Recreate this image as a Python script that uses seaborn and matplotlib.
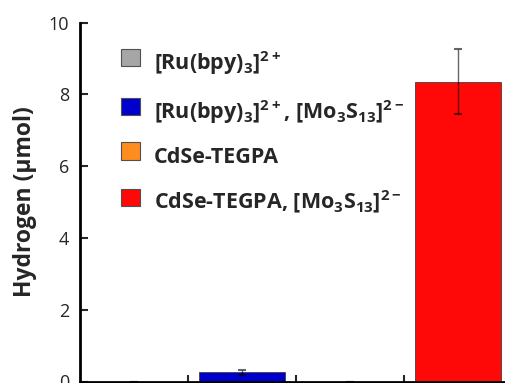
import numpy as np
import pandas as pd
import matplotlib
matplotlib.use("Agg")
import matplotlib.pyplot as plt
import seaborn as sns
from matplotlib.patches import Patch, Rectangle
from matplotlib.legend_handler import HandlerPatch

# -----------------------------
# Data
# -----------------------------
samples = ["Ru", "Ru+Mo3S13", "CdSe", "CdSe+Mo3S13"]
hydrogen = [0.0, 0.26, 0.0, 8.35]
errors = [0.0, 0.07, 0.0, 0.90]
labels = [r"[Ru(bpy)$_3$]$^{2+}$",
          r"[Ru(bpy)$_3$]$^{2+}$, [Mo$_3$S$_{13}$]$^{2-}$",
          "CdSe-TEGPA",
          r"CdSe-TEGPA, [Mo$_3$S$_{13}$]$^{2-}$"]
colors = ["#a6a6a6", "#0000cc", "#ff8c1e", "#ff0808"]

df = pd.DataFrame({"sample": samples, "hydrogen": hydrogen, "err": errors})

# -----------------------------
# Style
# -----------------------------
sns.set_style("ticks")
plt.rcParams["font.family"] = ["Open Sans", "DejaVu Sans"]
plt.rcParams["mathtext.fontset"] = "custom"
plt.rcParams["mathtext.rm"] = "Open Sans:bold"
plt.rcParams["mathtext.bf"] = "Open Sans:bold"
plt.rcParams["mathtext.default"] = "rm"

fig = plt.figure(figsize=(5.05, 3.83), dpi=100)
ax = fig.add_axes([80 / 505, 1.5 / 383, 432 / 505, 359 / 383])

sns.barplot(data=df, x="sample", y="hydrogen", hue="sample",
            palette=colors, saturation=1, width=0.8,
            edgecolor="#404040", linewidth=0.6,
            errorbar=None, legend=False, ax=ax)

ax.errorbar(np.arange(len(samples)), df["hydrogen"], yerr=df["err"],
            fmt="none", ecolor="black", alpha=0.6, elinewidth=1,
            capsize=3, capthick=1.5)

# -----------------------------
# Axes
# -----------------------------
ax.set_xlim(-0.5, 3.5)
ax.set_ylim(0, 10)
ax.set_yticks([0, 2, 4, 6, 8, 10])
ax.set_xticks([0.5, 1.5, 2.5, 3.5])
ax.set_xticklabels([])
ax.set_xlabel("")
ax.set_ylabel("Hydrogen (\u03bcmol)", fontsize=16.5, fontweight="bold", labelpad=8)
ax.tick_params(axis="y", direction="in", length=6, width=1.5, labelsize=13, pad=8)
ax.tick_params(axis="x", direction="in", length=5, width=1.5)
sns.despine(ax=ax)
for s in ["left", "bottom"]:
    ax.spines[s].set_linewidth(2)
    ax.spines[s].set_color("black")


# legend squares sit a little above the text line, as in the original
def raised_square(legend, orig_handle, xdescent, ydescent, width, height, fontsize):
    return Rectangle((-xdescent, -ydescent + 3.5), width, height)


handles = [Patch(facecolor=c, edgecolor="#505050", linewidth=0.8) for c in colors]
leg = ax.legend(handles, labels, loc="upper left", bbox_to_anchor=(0.075, 0.95),
                frameon=False, prop={"weight": "bold", "size": 15.5},
                handlelength=0.88, handleheight=0.88, handletextpad=0.65,
                labelspacing=0.98, borderaxespad=0,
                handler_map={Patch: HandlerPatch(patch_func=raised_square)})

fig.savefig("out.png", dpi=100)
